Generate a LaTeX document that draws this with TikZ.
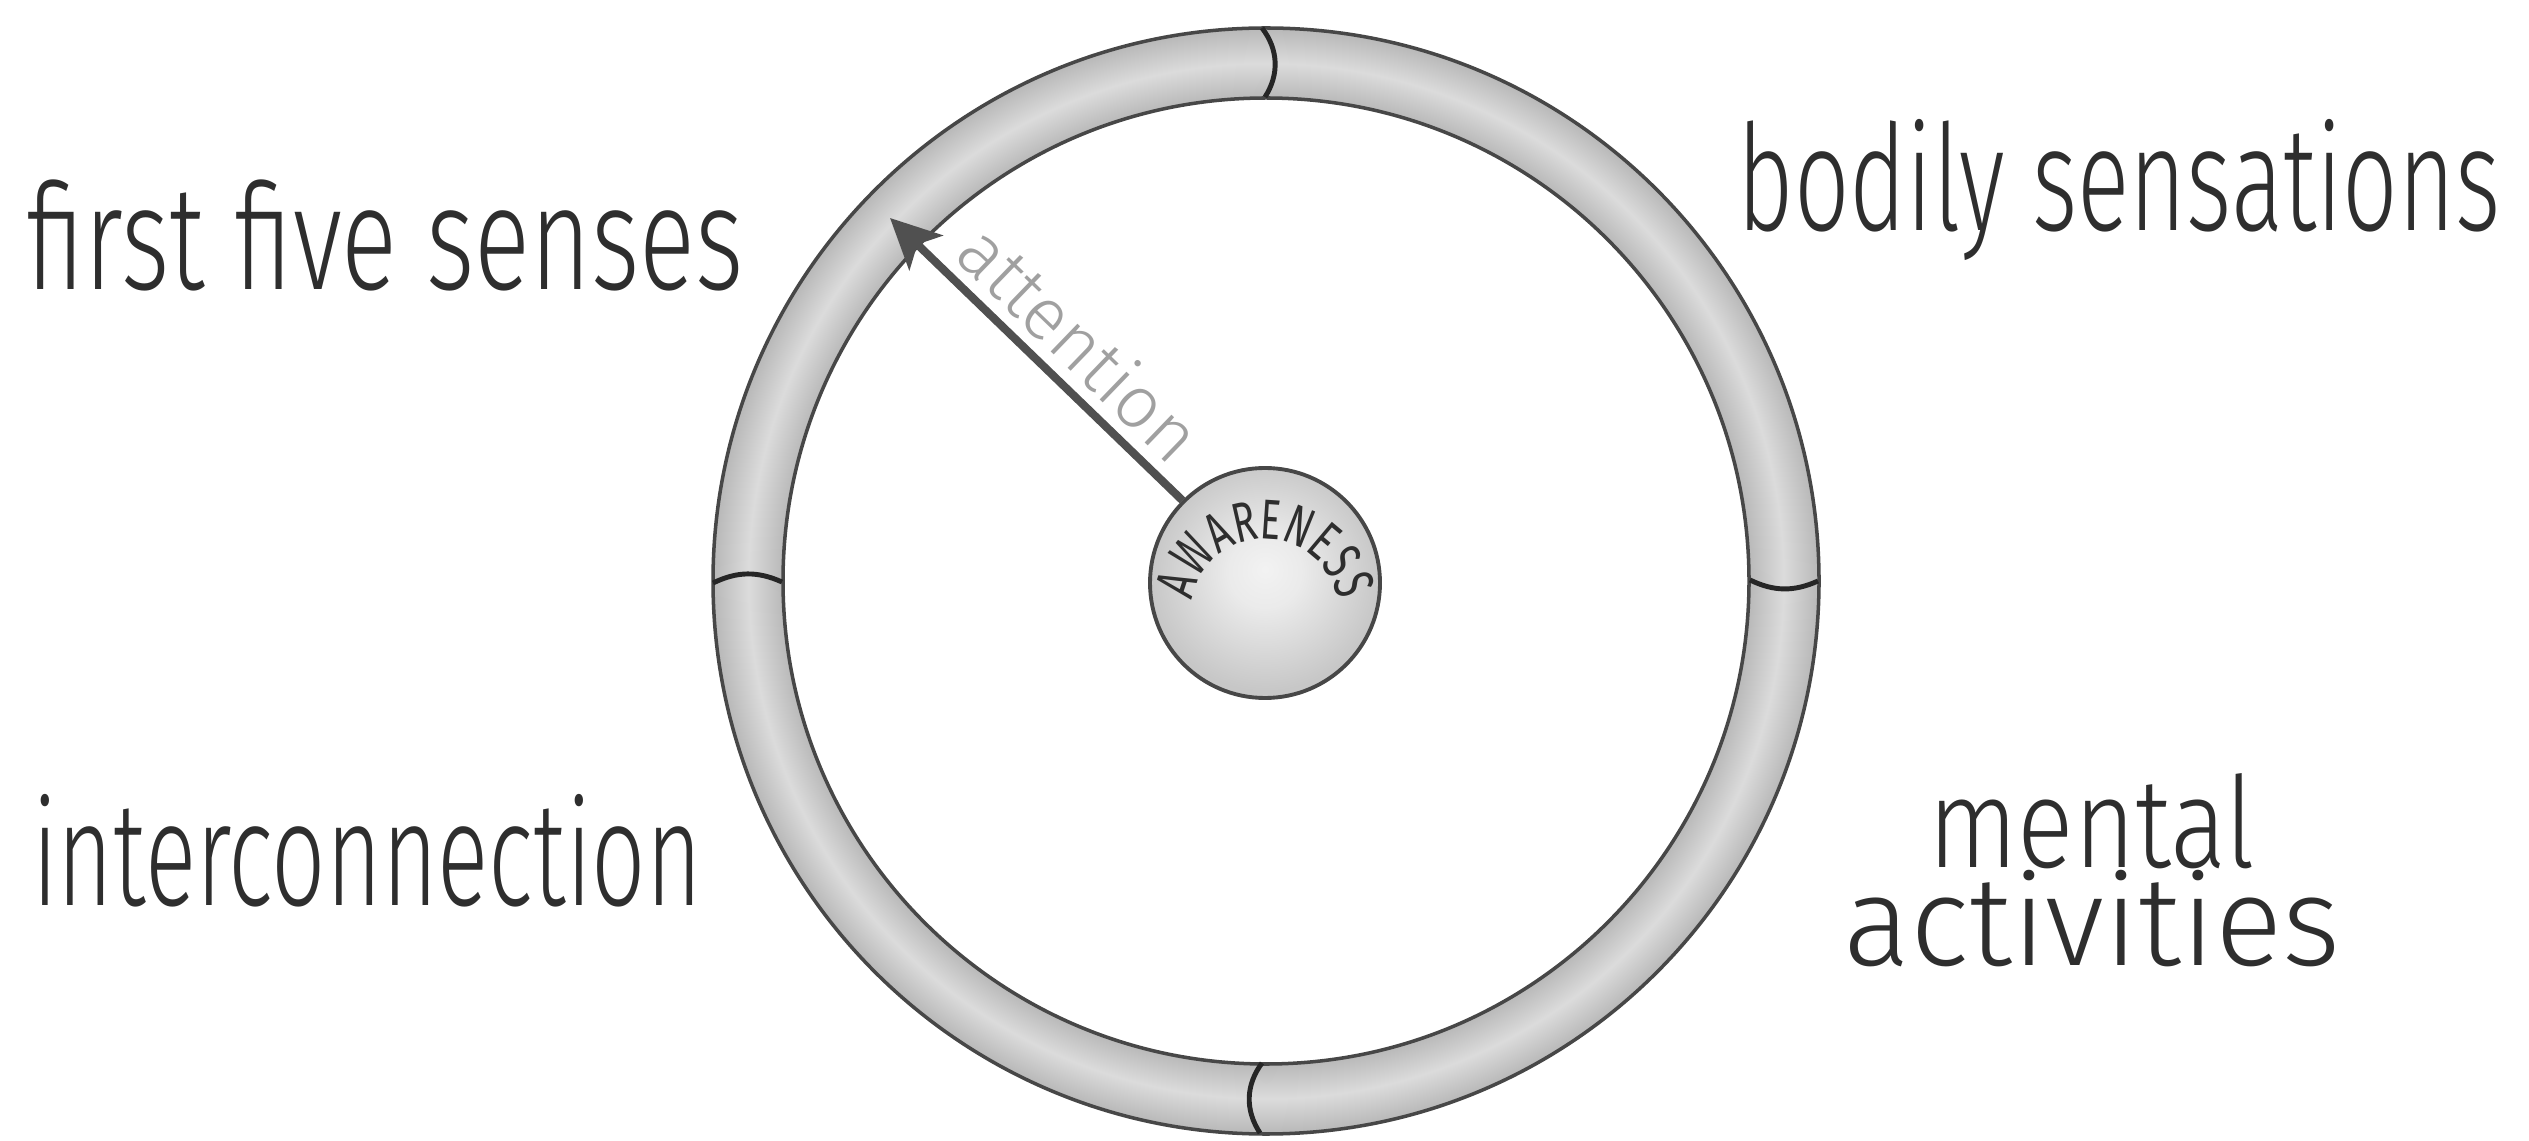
\documentclass[tikz,border=0pt]{standalone}
\usepackage{fontspec}
\newfontfamily\handfont{Fira Sans}[UprightFont={* Light}]
\newfontfamily\plainfont{Fira Sans}
\usetikzlibrary{arrows.meta,decorations.text}
\definecolor{ink}{HTML}{2E2E2E}
\definecolor{rimline}{HTML}{474747}
\definecolor{arrowgrey}{HTML}{505050}
\definecolor{notegrey}{HTML}{A0A0A0}
\pgfdeclareradialshading{ringshade}{\pgfpointorigin}{color(0bp)=(white!72!black); color(21.8bp)=(white!72!black); color(23.4bp)=(white!86!black); color(25bp)=(white!72!black); color(50bp)=(white!72!black)}
\pgfdeclareradialshading{ballshade}{\pgfpoint{0bp}{3bp}}{color(0bp)=(white!95!black); color(8bp)=(white!92!black); color(25bp)=(white!78!black); color(50bp)=(white!78!black)}

\begin{document}
\begin{tikzpicture}[>={Stealth[length=0.5cm,width=0.48cm,inset=0.12cm]},
    rim/.style={draw=rimline,line width=1pt},
    divider/.style={draw=black!85,line width=1.4pt},
    hand/.style={ink,inner sep=0pt,font=\handfont\addfontfeature{FakeStretch=#1}\fontsize{42}{29}\selectfont}]
    \useasboundingbox (0,0) rectangle (25.29,11.40);
    \coordinate (c) at (12.66,5.59);
    \shade[shading=ringshade,even odd rule] (c) circle [radius=5.53] (c) circle [radius=4.83];
    \draw[rim] (c) circle [radius=5.53];
    \draw[rim] (c) circle [radius=4.83];
    \draw[divider] (12.62,11.12) to[bend left=35] (12.65,10.43);
    \draw[divider] (7.13,5.57) to[bend left=25] (7.82,5.58);
    \draw[divider] (17.50,5.60) to[bend right=25] (18.18,5.59);
    \draw[divider] (12.62,0.77) to[bend right=35] (12.60,0.07);
    \node[circle,minimum size=2.30cm,inner sep=0pt,draw=rimline,line width=1.1pt,shade,shading=ballshade] (aware) at (12.65,5.57) {};
    \path[decorate,decoration={text along path,text color=ink,text align=center,
        text={|\plainfont\addfontfeature{FakeStretch=0.68}\fontsize{16}{16}\selectfont|AWARENESS}}]
        ([yshift=-0.30cm]aware.center) ++(180:0.74) arc [start angle=180,end angle=0,radius=0.74];
    \coordinate (focus) at (8.90,9.22);
    \draw[->,arrowgrey,line width=2.3pt] (aware.135) -- node[pos=0.45,sloped,above,inner sep=3pt,notegrey,font=\handfont\fontsize{21}{21}\selectfont] (attn) {attention} (focus);
    \node[hand=0.705,anchor=base] (senses) at (3.85,8.50) {first five senses};
    \node[hand=0.66,anchor=base] (bodily) at (21.19,9.09) {bodily sensations};
    \node[hand=0.646,anchor=base] (inter) at (3.67,2.35) {interconnection};
    \node[hand=0.83,font={\handfont\addfontfeature{FakeStretch=0.83}\fontsize{36}{28}\selectfont\lineskiplimit=-50pt},anchor=base,align=center] (mental) at (20.92,1.74)
        {mental\\{\addfontfeature{FakeStretch=0.99}activities}};
\end{tikzpicture}
\end{document}
